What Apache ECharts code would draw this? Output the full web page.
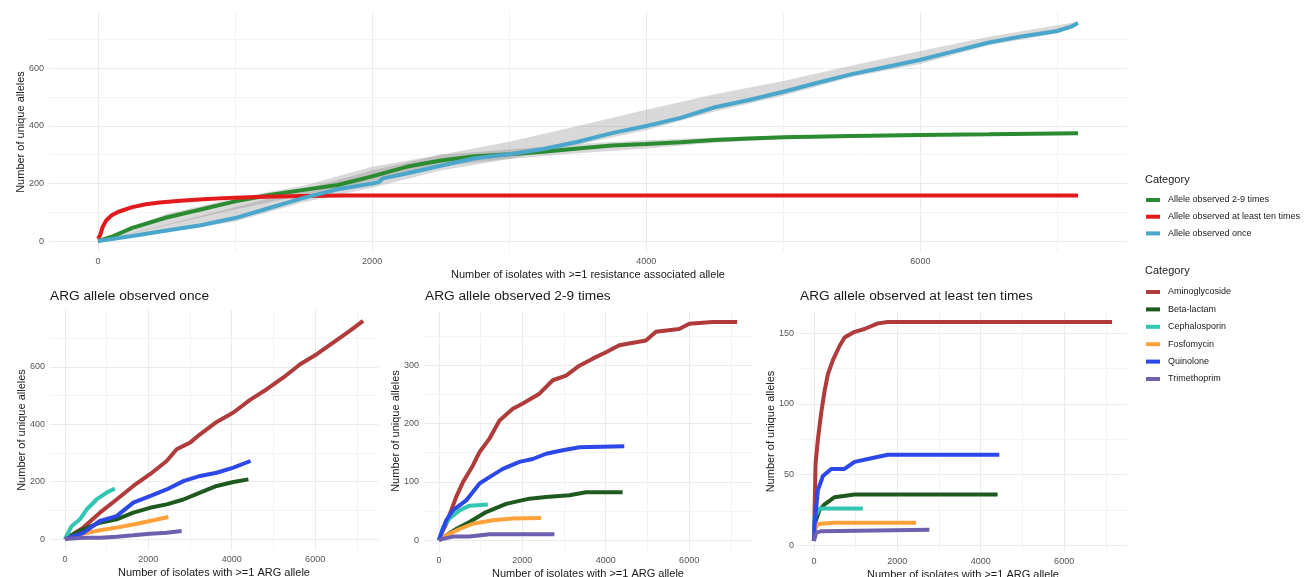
<!DOCTYPE html>
<html><head><meta charset="utf-8">
<script src="https://cdn.jsdelivr.net/npm/echarts@6/dist/echarts.min.js"></script>
<style>html,body{margin:0;padding:0;background:#fff}#c{width:1304px;height:577px}</style>
</head><body><div id="c"></div>
<script>
// ---------- DATA ----------
// Top panel: [isolates, unique alleles]
const topTwoNine = [[0,0],[100,15],[250,46],[500,82],[750,110],[1000,138],[1250,160],[1500,178],[1750,195],[2000,225],[2250,258],[2500,280],[2750,295],[3000,302],[3250,310],[3500,322],[3750,332],[4000,337],[4250,343],[4500,351],[4750,356],[5000,361],[5500,365],[6000,369],[6500,371],[7150,375]];
const topTen = [[0,8],[15,20],[35,50],[60,72],[100,90],[150,102],[250,118],[350,128],[450,134],[600,140],[800,146],[1000,151],[1200,154],[1500,157],[1800,158],[7150,158]];
const topOnce = [[0,0],[250,18],[500,37],[750,55],[1000,80],[1250,115],[1500,150],[1750,180],[2000,200],[2050,205],[2080,218],[2250,235],[2500,262],[2750,288],[3000,302],[3250,320],[3500,345],[3750,375],[4000,400],[4250,428],[4500,465],[4750,490],[5000,519],[5250,550],[5500,580],[5750,605],[6000,630],[6250,660],[6500,690],[6750,712],[7000,730],[7100,745],[7150,758]];
// grey ribbons (x, lower, upper)
const ribOnceX  = [0,500,1000,1500,2000,2500,3000,3500,4000,4500,5000,5500,6000,6500,7000,7150];
const ribOnceLo = [0,30,68,135,185,245,285,335,385,450,505,570,615,680,722,756];
const ribOnceHi = [0,58,118,180,245,300,345,400,456,510,556,610,660,710,750,762];
const ribTwoX  = [0,500,1000,1500,2000,2500,3000,3500,4000,4500,5000,5500,6000,6500,7150];
const ribTwoLo = [0,55,110,160,210,262,285,305,322,342,354,360,365,368,373];
const ribTwoHi = [0,95,150,192,258,300,318,338,350,360,366,370,373,375,377];

const topNames = ['Allele observed 2-9 times','Allele observed at least ten times','Allele observed once'];
const classNames = ['Aminoglycoside','Beta-lactam','Cephalosporin','Fosfomycin','Quinolone','Trimethoprim'];
const panelTitles = ['ARG allele observed once','ARG allele observed 2-9 times','ARG allele observed at least ten times'];

// Panel: observed once
const onceAmino = [[0,0],[40,5],[440,40],[840,92],[1240,138],[1640,185],[2040,226],[2440,272],[2680,313],[3000,336],[3240,365],[3640,408],[4040,441],[4440,485],[4840,522],[5240,563],[5640,609],[6040,644],[6440,685],[6840,726],[7150,760]];
const onceBeta = [[0,0],[440,34],[840,57],[1240,69],[1640,92],[2040,109],[2440,121],[2840,138],[3240,162],[3640,185],[4040,199],[4400,208]];
const onceCeph = [[0,0],[160,45],[360,69],[520,103],[760,138],[1000,162],[1200,176]];
const onceFosfo = [[0,0],[440,19],[840,31],[1240,40],[1640,51],[2040,63],[2480,77]];
const onceQuin = [[0,0],[440,22],[840,63],[1240,80],[1640,127],[2040,150],[2440,173],[2840,202],[3240,220],[3640,231],[4040,249],[4450,272]];
const onceTrim = [[0,0],[440,5],[840,5],[1240,8],[1640,13],[2040,19],[2440,22],[2800,28]];
// Panel: observed 2-9 times
const twoAmino = [[0,0],[56,11],[176,28],[415,74],[575,99],[815,128],[975,151],[1213,174],[1453,205],[1772,225],[2011,234],[2410,251],[2730,274],[3049,282],[3368,299],[3687,311],[4006,322],[4325,334],[4964,342],[5203,357],[5762,362],[6002,371],[6560,374],[7150,374]];
const twoBeta = [[0,0],[415,19],[734,31],[1133,48],[1612,62],[2170,71],[2570,74],[3128,77],[3527,82],[4405,82]];
const twoCeph = [[0,0],[96,22],[255,37],[495,51],[734,59],[1173,61]];
const twoFosfo = [[0,0],[176,8],[495,19],[815,28],[1293,34],[1772,37],[2450,38]];
const twoQuin = [[0,0],[176,34],[335,51],[654,68],[974,97],[1213,108],[1532,122],[1931,134],[2250,139],[2570,148],[2969,154],[3368,159],[4445,161]];
const twoTrim = [[0,0],[96,2],[335,6],[734,6],[1213,10],[2769,10]];
// Panel: observed at least ten times
const tenAmino = [[0,3],[40,58],[96,75],[176,94],[255,109],[335,121],[455,131],[615,141],[734,147],[974,151],[1213,153],[1532,157],[1772,158],[7150,158]];
const tenBeta = [[0,3],[16,15],[136,25],[255,29],[495,34],[974,36],[4405,36]];
const tenCeph = [[0,3],[16,20],[136,26],[1173,26]];
const tenFosfo = [[0,3],[16,11],[96,15],[495,16],[2450,16]];
const tenQuin = [[0,3],[16,15],[96,39],[216,49],[415,54],[734,54],[974,59],[1293,61],[1772,64],[4445,64]];
const tenTrim = [[0,3],[56,9],[176,10],[2769,11]];

// tick labels / grid lines
const xMajor = [0,2000,4000,6000];
const xMinor = [1000,3000,5000,7000];
const yTopMajor = [0,200,400,600], yTopMinor = [100,300,500,700];
const yP1Major = [0,200,400,600], yP1Minor = [100,300,500,700];
const yP2Major = [0,100,200,300], yP2Minor = [50,150,250,350];
const yP3Major = [0,50,100,150], yP3Minor = [25,75,125];

// ---------- STYLE ----------
const FONT = 'Liberation Sans, Arial, Helvetica, sans-serif';
const topColors = ['#2b8b30','#e3191c','#4ba6cb'];
const classColors = ['#b03b3b','#1e5a1e','#30c6b2','#ffa13a','#2c48e8','#6f5fae'];

function ext(series, dim) {
  let mx = -Infinity, mn = Infinity;
  series.forEach(s => s.forEach(p => { mx = Math.max(mx, p[dim]); mn = Math.min(mn, p[dim]); }));
  const r = mx - mn;
  return [mn - 0.05 * r, mx + 0.05 * r];
}

const xAxes = [], yAxes = [], series = [];
function addAxes(gi, xr, yr, yMaj, yMin, xName, yName) {
  const lbl = {fontSize: 9, color: '#555', fontFamily: FONT, formatter: v => String(v)};
  const nts = {fontSize: 11, color: '#1a1a1a', fontFamily: FONT};
  xAxes.push({type:'value', gridIndex: gi, min: xr[0], max: xr[1],
    axisLine:{show:false}, axisTick:{show:false, customValues: xMajor},
    axisLabel: Object.assign({customValues: xMajor, margin: 5}, lbl),
    splitLine:{show:true, lineStyle:{color:'#ebebeb', width:1}},
    name: xName, nameLocation:'middle', nameGap: 17, nameMoveOverlap: false, nameTextStyle: nts});
  xAxes.push({type:'value', gridIndex: gi, min: xr[0], max: xr[1],
    axisLine:{show:false}, axisTick:{show:false, customValues: xMinor},
    axisLabel:{show:false, customValues: xMinor},
    splitLine:{show:true, lineStyle:{color:'#f3f3f3', width:1}}});
  yAxes.push({type:'value', gridIndex: gi, min: yr[0], max: yr[1],
    axisLine:{show:false}, axisTick:{show:false, customValues: yMaj},
    axisLabel: Object.assign({customValues: yMaj, margin: 5}, lbl),
    splitLine:{show:true, lineStyle:{color:'#ebebeb', width:1}},
    name: yName, nameLocation:'middle', nameGap: 23, nameMoveOverlap: false, nameTextStyle: nts});
  yAxes.push({type:'value', gridIndex: gi, min: yr[0], max: yr[1],
    axisLine:{show:false}, axisTick:{show:false, customValues: yMin},
    axisLabel:{show:false, customValues: yMin},
    splitLine:{show:true, lineStyle:{color:'#f3f3f3', width:1}}});
  return [xAxes.length - 2, yAxes.length - 2];
}

function ribbon(ax, xs, lo, hi) {
  return {type:'custom', xAxisIndex: ax[0], yAxisIndex: ax[1], silent: true, z: 1,
    data: [[xs[0], lo[0]]],
    renderItem: function (params, api) {
      const pts = [];
      for (let i = 0; i < xs.length; i++) pts.push(api.coord([xs[i], hi[i]]));
      for (let i = xs.length - 1; i >= 0; i--) pts.push(api.coord([xs[i], lo[i]]));
      return {type:'polygon', shape:{points: pts}, style:{fill:'rgba(128,128,128,0.3)'}};
    }};
}
function line(ax, name, color, data, w) {
  return {type:'line', name, xAxisIndex: ax[0], yAxisIndex: ax[1], data,
    showSymbol:false, symbol:'none', color, lineStyle:{color, width: w}, z: 3, animation:false};
}

// top panel
const topSeries = [topTwoNine, topTen, topOnce];
const ax0 = addAxes(0, ext(topSeries, 0), ext(topSeries, 1), yTopMajor, yTopMinor,
  'Number of isolates with >=1 resistance associated allele', 'Number of unique alleles');
series.push(ribbon(ax0, ribOnceX, ribOnceLo, ribOnceHi));
series.push(ribbon(ax0, ribTwoX, ribTwoLo, ribTwoHi));
topSeries.forEach((d, i) => series.push(line(ax0, topNames[i], topColors[i], d, 4)));

const panels = [
  [onceAmino, onceBeta, onceCeph, onceFosfo, onceQuin, onceTrim],
  [twoAmino, twoBeta, twoCeph, twoFosfo, twoQuin, twoTrim],
  [tenAmino, tenBeta, tenCeph, tenFosfo, tenQuin, tenTrim]
];
const pMaj = [yP1Major, yP2Major, yP3Major], pMin = [yP1Minor, yP2Minor, yP3Minor];
panels.forEach((p, k) => {
  const ax = addAxes(k + 1, ext(p, 0), ext(p, 1), pMaj[k], pMin[k],
    'Number of isolates with >=1 ARG allele', 'Number of unique alleles');
  p.forEach((d, i) => series.push(line(ax, classNames[i], classColors[i], d, 4)));
});

const titleStyle = {fontSize: 13.7, fontWeight: 'normal', color: '#1a1a1a', fontFamily: FONT};
const legTitle = {fontSize: 11, fontWeight: 'normal', color: '#1a1a1a', fontFamily: FONT};
const option = {
  animation: false,
  backgroundColor: '#fff',
  grid: [
    {left: 49, top: 12, width: 1078, height: 240, outerBoundsMode: 'none'},
    {left: 50, top: 310, width: 328, height: 240, outerBoundsMode: 'none'},
    {left: 424, top: 311, width: 328, height: 240, outerBoundsMode: 'none'},
    {left: 799, top: 311, width: 328, height: 241, outerBoundsMode: 'none'}
  ],
  title: [
    {text: panelTitles[0], left: 50, top: 289, padding: 0, textStyle: titleStyle},
    {text: panelTitles[1], left: 425, top: 289, padding: 0, textStyle: titleStyle},
    {text: panelTitles[2], left: 800, top: 289, padding: 0, textStyle: titleStyle},
    {text: 'Category', left: 1145, top: 174, padding: 0, textStyle: legTitle},
    {text: 'Category', left: 1145, top: 265, padding: 0, textStyle: legTitle}
  ],
  legend: [
    {data: topNames, orient: 'vertical', left: 1146, top: 194, padding: 0, itemGap: 4.7,
     itemWidth: 14, itemHeight: 4, icon: 'rect', selectedMode: false,
     textStyle: {fontSize: 9, color: '#1a1a1a', fontFamily: FONT, lineHeight: 12, padding: [0,0,0,3]}},
    {data: classNames, orient: 'vertical', left: 1146, top: 286, padding: 0, itemGap: 5.4,
     itemWidth: 14, itemHeight: 4, icon: 'rect', selectedMode: false,
     textStyle: {fontSize: 9, color: '#1a1a1a', fontFamily: FONT, lineHeight: 12, padding: [0,0,0,3]}}
  ],
  xAxis: xAxes,
  yAxis: yAxes,
  series: series
};
const chart = echarts.init(document.getElementById('c'), null, {renderer: 'canvas'});
chart.setOption(option);
</script></body></html>
